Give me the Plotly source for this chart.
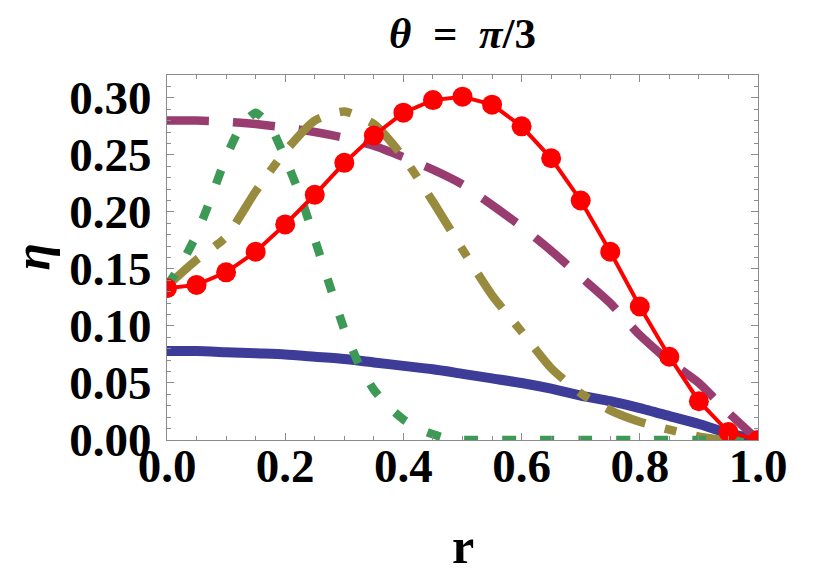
import plotly.graph_objects as go

# ---- data ----
r_grid = [0.0, 0.05, 0.10, 0.15, 0.20, 0.25, 0.30, 0.35, 0.40, 0.45, 0.50,
          0.55, 0.60, 0.65, 0.70, 0.75, 0.80, 0.85, 0.90, 0.95, 1.0]

eta_blue = [0.078, 0.078, 0.077, 0.076, 0.075, 0.073, 0.071, 0.068, 0.065, 0.062, 0.058,
            0.054, 0.050, 0.045, 0.039, 0.034, 0.028, 0.021, 0.014, 0.006, 0.0]

eta_purple = [0.280, 0.280, 0.279, 0.277, 0.274, 0.270, 0.265, 0.258, 0.248, 0.237, 0.224,
              0.206, 0.187, 0.166, 0.143, 0.120, 0.092, 0.069, 0.050, 0.024, 0.0]

eta_olive = [0.135, 0.158, 0.178, 0.218, 0.253, 0.280, 0.288, 0.277, 0.248, 0.209, 0.167,
             0.127, 0.095, 0.063, 0.041, 0.026, 0.016, 0.009, 0.003, 0.0, 0.0]

r_green = [0.0, 0.025, 0.05, 0.075, 0.10, 0.125, 0.15, 0.175, 0.20, 0.225, 0.25,
           0.275, 0.30, 0.325, 0.35, 0.375, 0.40, 0.425, 0.45, 0.475, 0.50,
           0.60, 0.70, 0.80, 0.90, 1.0]
eta_green = [0.135, 0.155, 0.180, 0.213, 0.248, 0.275, 0.287, 0.275, 0.247, 0.215, 0.176,
             0.136, 0.097, 0.066, 0.044, 0.029, 0.018, 0.010, 0.005, 0.001, 0.0,
             0.0, 0.0, 0.0, 0.0, 0.0]

eta_red = [0.133, 0.136, 0.147, 0.165, 0.189, 0.215, 0.243, 0.267, 0.287, 0.298, 0.301,
           0.294, 0.275, 0.247, 0.210, 0.165, 0.117, 0.073, 0.034, 0.007, 0.0]

x_ticks = [0.0, 0.2, 0.4, 0.6, 0.8, 1.0]
y_ticks = [0.00, 0.05, 0.10, 0.15, 0.20, 0.25, 0.30]

FONT = "Liberation Serif"
BLUE = "#3d3d99"
PURPLE = "#993d71"
OLIVE = "#998b3d"
GREEN = "#3d9956"

fig = go.Figure()
fig.add_trace(go.Scatter(x=r_grid, y=eta_blue, mode="lines",
                         line=dict(color=BLUE, width=10, shape="spline", smoothing=0.6)))
fig.add_trace(go.Scatter(x=r_grid, y=eta_purple, mode="lines",
                         line=dict(color=PURPLE, width=8.5, dash="42px,24px",
                                   shape="spline", smoothing=0.6)))
fig.add_trace(go.Scatter(x=r_grid, y=eta_olive, mode="lines",
                         line=dict(color=OLIVE, width=8.5, dash="42px,20px,12px,20px",
                                   shape="spline", smoothing=0.6)))
fig.add_trace(go.Scatter(x=r_green, y=eta_green, mode="lines",
                         line=dict(color=GREEN, width=8.5, dash="14px,24px",
                                   shape="spline", smoothing=0.5)))
fig.add_trace(go.Scatter(x=r_grid, y=eta_red, mode="lines+markers",
                         line=dict(color="#ff0000", width=4),
                         marker=dict(color="#ff0000", size=20)))

axis_common = dict(
    showgrid=False, zeroline=False,
    showline=True, linecolor="#8c8c8c", linewidth=1, mirror="ticks",
    ticks="inside", ticklen=7, tickcolor="#8c8c8c", tickwidth=1,
    tickfont=dict(family=FONT, size=47, color="black", weight="bold"),
)

fig.update_xaxes(range=[0, 1], tickvals=x_ticks, tickformat=".1f",
                 minor=dict(dtick=0.05, ticks="inside", ticklen=4, tickcolor="#8c8c8c"),
                 ticklabelstandoff=-15, **axis_common)
fig.update_yaxes(range=[0, 0.32], tickvals=y_ticks, tickformat=".2f",
                 minor=dict(dtick=0.01, ticks="inside", ticklen=4, tickcolor="#8c8c8c"),
                 ticklabelstandoff=5, **axis_common)

fig.update_layout(
    width=834, height=573,
    margin=dict(l=167, r=76, t=75, b=133),
    paper_bgcolor="white", plot_bgcolor="white",
    showlegend=False,
    title=dict(text="<i>θ</i>\u00a0\u00a0=\u00a0\u00a0<i>π</i>/3", x=0.5, xref="paper",
               y=1 - 33 / 573, yref="container", xanchor="center", yanchor="middle",
               font=dict(family=FONT, size=43, color="black", weight="bold")),
    annotations=[
        dict(text="r", xref="paper", yref="paper", x=0.5, y=-0.29,
             xanchor="center", yanchor="middle", showarrow=False,
             font=dict(family=FONT, size=50, color="black", weight="bold")),
        dict(text="<i>η</i>", xref="paper", yref="paper", x=-0.23, y=0.5,
             xanchor="center", yanchor="middle", showarrow=False, textangle=-90,
             font=dict(family=FONT, size=50, color="black", weight="bold")),
    ],
)

fig.write_html("out.html")
